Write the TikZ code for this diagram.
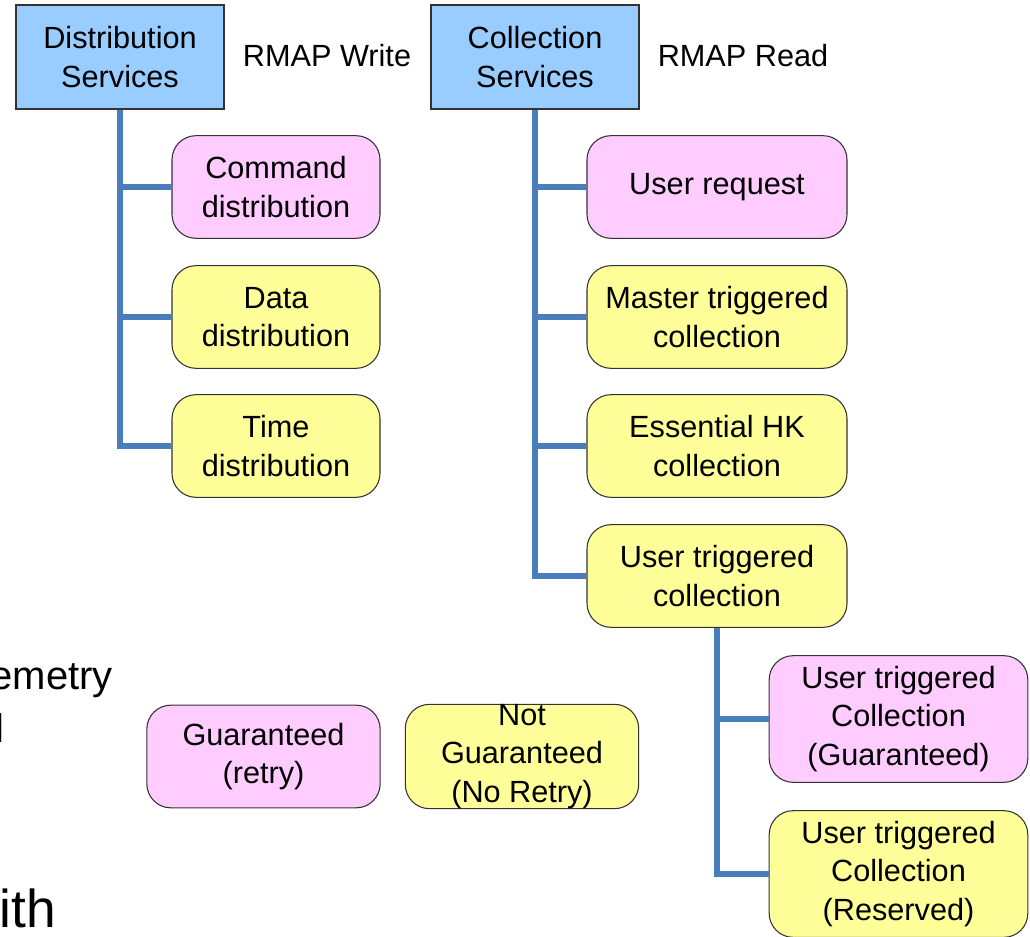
\documentclass[tikz,border=0pt]{standalone}
\usepackage{fontspec}
\setmainfont{Liberation Sans}
\definecolor{hdrblue}{HTML}{99CCFF}
\definecolor{pinkfill}{HTML}{FFCCFF}
\definecolor{yellowfill}{HTML}{FFFF99}
\definecolor{linkblue}{HTML}{4A7EBB}
\definecolor{edge}{HTML}{333333}
\tikzset{
  base/.style={draw=edge, line width=0.8pt, align=center, inner sep=0pt,
    font=\fontsize{23}{28.8}\selectfont},
  hdr/.style={base, rectangle, fill=hdrblue, minimum width=156pt, minimum height=78pt},
  rbox/.style={base, rounded corners=18pt},
  pinkbox/.style={rbox, fill=pinkfill},
  yellowbox/.style={rbox, fill=yellowfill},
  small/.style={minimum width=156pt, minimum height=77pt},
  wide/.style={minimum width=195pt, minimum height=77pt},
  mid/.style={minimum width=175pt, minimum height=77pt},
  tall/.style={minimum width=194pt, minimum height=95pt},
  plain/.style={font=\fontsize{23}{28.8}\selectfont, inner sep=0pt},
  cuttext/.style={anchor=base east, inner sep=0pt},
  conn/.style={draw=linkblue, line width=4.5pt}
}
\begin{document}
\begin{tikzpicture}[x=0.75pt, y=-0.75pt]
\useasboundingbox (0,0) rectangle (1030,937);
% headers
\node[hdr] (ds) at (120,57) {Distribution\\Services};
\node[plain] (rw) at (327,56) {RMAP Write};
\node[hdr] (cs) at (535,57) {Collection\\Services};
\node[plain] (rr) at (743,56) {RMAP Read};
% distribution children
\node[pinkbox, small] (cmd) at (276,187) {Command\\distribution};
\node[yellowbox, small] (dat) at (276,317) {Data\\distribution};
\node[yellowbox, small] (tim) at (276,446) {Time\\distribution};
% collection children
\node[pinkbox, wide] (ur) at (717,187) {User request};
\node[yellowbox, wide] (mtc) at (717,317) {Master triggered\\collection};
\node[yellowbox, wide] (ehk) at (717,446) {Essential HK\\collection};
\node[yellowbox, wide] (utc) at (717,576) {User triggered\\collection};
% user triggered children
\node[pinkbox, tall] (utg) at (898.5,719) {User triggered\\Collection\\(Guaranteed)};
\node[yellowbox, tall] (utr) at (898.5,874) {User triggered\\Collection\\(Reserved)};
% legend
\node[pinkbox, mid] (gua) at (263.5,756.5) {Guaranteed\\(retry)};
\node[yellowbox, mid] (ngu) at (522,756.5) {Not\\Guaranteed\\(No Retry)};
% cut-off text at left edge
\node[cuttext, font=\fontsize{30}{34}\selectfont] (t1) at (113,689) {emetry};
\node[cuttext, font=\fontsize{30}{34}\selectfont] (t2) at (5,742) {l};
\node[cuttext, font=\fontsize{40}{45}\selectfont] (t3) at (56,927) {ith};
% connectors
\draw[conn] (ds.south) |- (cmd.west);
\draw[conn] (ds.south) |- (dat.west);
\draw[conn] (ds.south) |- (tim.west);
\draw[conn] (cs.south) |- (ur.west);
\draw[conn] (cs.south) |- (mtc.west);
\draw[conn] (cs.south) |- (ehk.west);
\draw[conn] (cs.south) |- (utc.west);
\draw[conn] (utc.south) |- (utg.west);
\draw[conn] (utc.south) |- (utr.west);
\end{tikzpicture}
\end{document}
